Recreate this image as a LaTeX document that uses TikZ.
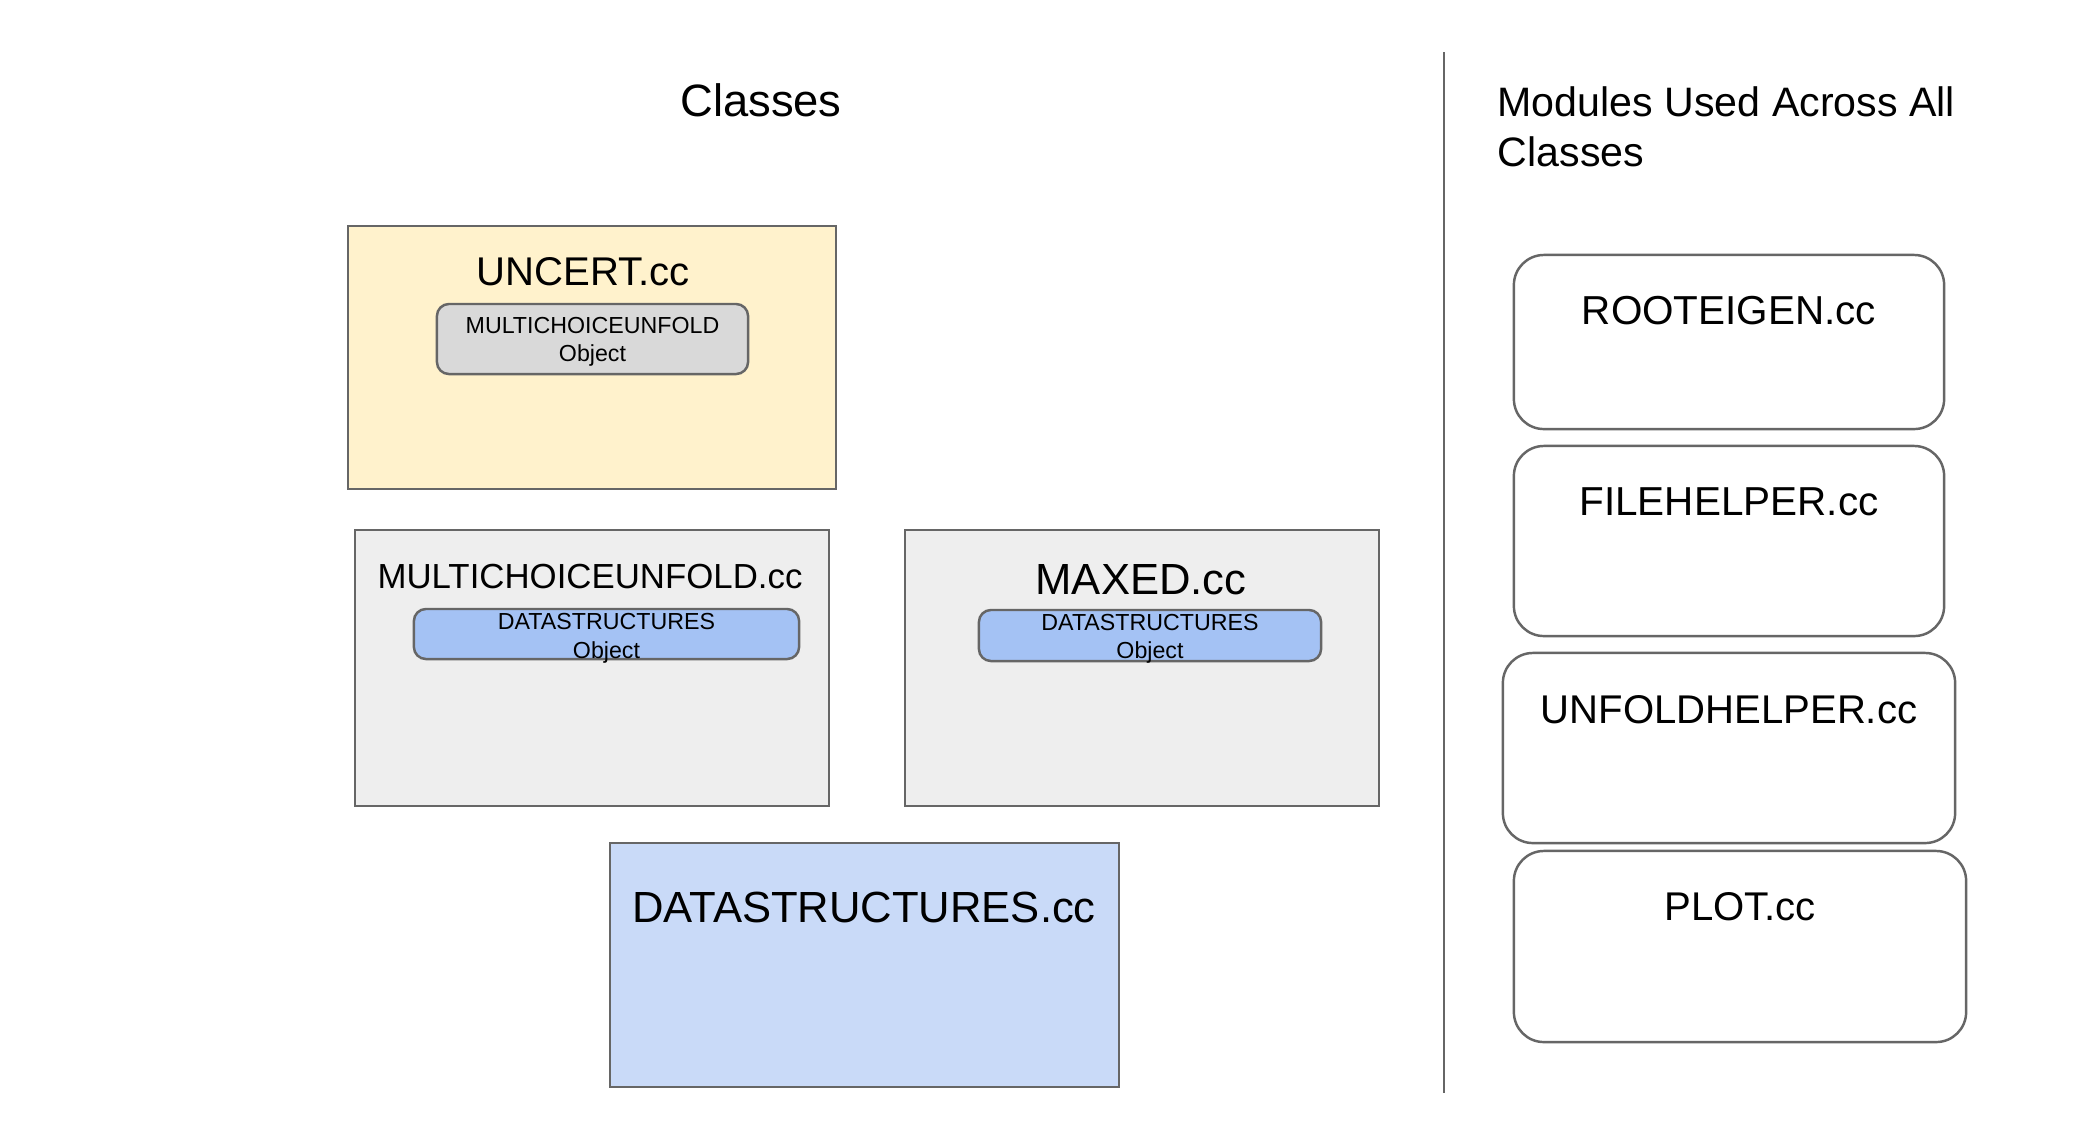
\documentclass[tikz,border=0pt]{standalone}
\usepackage{fontspec}
\setmainfont{Liberation Sans}
\usetikzlibrary{positioning}
\definecolor{edgeGray}{HTML}{666666}
\definecolor{uncertFill}{HTML}{FFF2CC}
\definecolor{classFill}{HTML}{EEEEEE}
\definecolor{objGray}{HTML}{D9D9D9}
\definecolor{objBlue}{HTML}{A4C2F4}
\definecolor{dsFill}{HTML}{C9DAF8}

\tikzset{
  classbox/.style={draw=edgeGray,line width=0.7pt,inner sep=0pt},
  objbox/.style={draw=edgeGray,line width=0.7pt,rounded corners=0.12cm,inner sep=0pt},
  objtext/.style={inner sep=0pt,align=center,font=\fontsize{6.6}{8}\selectfont},
  modbox/.style={draw=edgeGray,line width=0.7pt,rounded corners=0.3cm,fill=white,inner sep=0pt,
    minimum width=4.30cm},
  boxtitle/.style={anchor=base,inner sep=0pt}
}

\begin{document}
\begin{tikzpicture}[x=0.01cm,y=-0.01cm]
\useasboundingbox (0,0) rectangle (2078,1141);
% headings
\node[boxtitle,font=\fontsize{12.9}{15}\selectfont] (classesT) at (761,116) {Classes};
\node[anchor=base west,inner sep=0pt,align=left,font=\fontsize{11.7}{14}\selectfont] (modulesT) at (1497,166) {Modules Used Across All\\Classes};
\coordinate (divTop) at (1444,52);
\coordinate (divBot) at (1444,1093);
\draw[edgeGray,line width=0.7pt] (divTop) -- (divBot);

% classes
\node[classbox,fill=uncertFill,minimum width=4.88cm,minimum height=2.63cm] (uncert) at (592,357.5) {};
\node[boxtitle,font=\fontsize{11.4}{13}\selectfont] (uncertT) at (583,285) {UNCERT.cc};
\node[objbox,fill=objGray,minimum width=3.11cm,minimum height=0.70cm] (uncertObj) at (592.5,339) {};
\node[objtext,yshift=-0.8pt] (uncertObjT) at (uncertObj.center) {MULTICHOICEUNFOLD\\Object};

\node[classbox,fill=classFill,minimum width=4.74cm,minimum height=2.76cm] (mcu) at (592,668) {};
\node[boxtitle,font=\fontsize{9.9}{12}\selectfont] (mcuT) at (590,588) {MULTICHOICEUNFOLD.cc};
\node[objbox,fill=objBlue,minimum width=3.85cm,minimum height=0.50cm] (mcuObj) at (606.5,634) {};
\node[objtext,yshift=-1.2pt] (mcuObjT) at (mcuObj.center) {DATASTRUCTURES\\Object};

\node[classbox,fill=classFill,minimum width=4.74cm,minimum height=2.76cm] (maxed) at (1142,668) {};
\node[boxtitle,font=\fontsize{12.4}{14}\selectfont] (maxedT) at (1141,594) {MAXED.cc};
\node[objbox,fill=objBlue,minimum width=3.42cm,minimum height=0.51cm] (maxedObj) at (1150,635.5) {};
\node[objtext,yshift=-1.0pt] (maxedObjT) at (maxedObj.center) {DATASTRUCTURES\\Object};

\node[classbox,fill=dsFill,minimum width=5.09cm,minimum height=2.44cm] (ds) at (864.5,965) {};
\node[boxtitle,font=\fontsize{12.4}{14}\selectfont] (dsT) at (864,922) {DATASTRUCTURES.cc};

% modules
\node[modbox,minimum height=1.74cm] (rooteigen) at (1729,342) {};
\node[boxtitle,font=\fontsize{11.5}{13}\selectfont] (rooteigenT) at (1729,324) {ROOTEIGEN.cc};
\node[modbox,minimum height=1.90cm] (filehelper) at (1729,541) {};
\node[boxtitle,font=\fontsize{11.5}{13}\selectfont] (filehelperT) at (1729,515) {FILEHELPER.cc};
\node[modbox,minimum width=4.52cm,minimum height=1.90cm] (unfoldhelper) at (1729,748) {};
\node[boxtitle,font=\fontsize{11.4}{13}\selectfont] (unfoldhelperT) at (1729,723) {UNFOLDHELPER.cc};
\node[modbox,minimum width=4.52cm,minimum height=1.91cm] (plot) at (1740,946.5) {};
\node[boxtitle,font=\fontsize{11.4}{13}\selectfont] (plotT) at (1740,920) {PLOT.cc};
\end{tikzpicture}
\end{document}
